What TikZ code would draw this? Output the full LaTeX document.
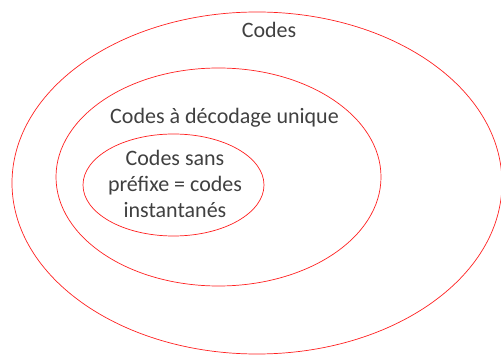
\documentclass[tikz,border=0pt]{standalone}
\usepackage{fontspec}
\setmainfont{Carlito}
\usetikzlibrary{shapes.geometric}
\definecolor{txt}{HTML}{404040}
\definecolor{ring}{HTML}{FF2020}
\begin{document}
\begin{tikzpicture}[x=1pt,y=-1pt,
  ringshape/.style={ellipse, draw=ring, line width=0.7pt, inner sep=0pt},
  lbl/.style={text=txt, font=\fontsize{22}{26}\selectfont, align=center, inner sep=0pt}]
\useasboundingbox (0,0) rectangle (501,355);
\node[ringshape, minimum width=490pt, minimum height=342pt] (outer) at (257,183) {};
\node[ringshape, minimum width=325pt, minimum height=218pt] (middle) at (218.5,177) {};
\node[ringshape, minimum width=181pt, minimum height=102pt] (inner) at (173.5,185) {};
\node[lbl] (tcodes) at (269,30) {Codes};
\node[lbl] (tunique) at (224.5,118) {Codes à décodage unique};
\node[lbl] (tprefix) at (175,184) {Codes sans\\préfixe = codes\\instantanés};
\end{tikzpicture}
\end{document}
